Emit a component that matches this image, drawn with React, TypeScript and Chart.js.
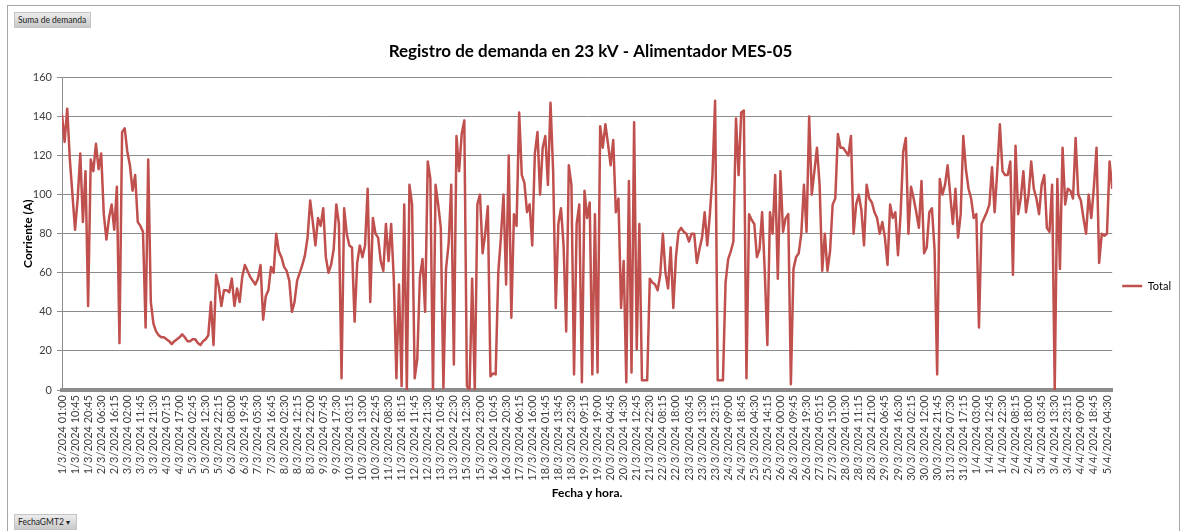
import React, { useEffect, useRef } from "react";
import { Chart, registerables } from "chart.js";

Chart.register(...registerables);

const TITLE = "Registro de demanda en 23 kV - Alimentador MES-05";
const SERIES_LABEL = "Total";
const Y_TITLE = "Corriente (A)";
const X_TITLE = "Fecha y hora.";
const VALUE_BUTTON = "Suma de demanda";
const FIELD_BUTTON = "FechaGMT2";
const SAMPLES_PER_LABEL = 5;

const tickLabels = [
  "1/3/2024 01:00", "1/3/2024 10:45", "1/3/2024 20:45", "2/3/2024 06:30", "2/3/2024 16:15",
  "3/3/2024 02:00", "3/3/2024 11:45", "3/3/2024 21:30", "4/3/2024 07:15", "4/3/2024 17:00",
  "5/3/2024 02:45", "5/3/2024 12:30", "5/3/2024 22:15", "6/3/2024 08:00", "6/3/2024 19:45",
  "7/3/2024 05:30", "7/3/2024 16:45", "8/3/2024 02:30", "8/3/2024 12:15", "8/3/2024 22:00",
  "9/3/2024 07:45", "9/3/2024 17:30", "10/3/2024 03:15", "10/3/2024 13:00", "10/3/2024 22:45",
  "11/3/2024 08:30", "11/3/2024 18:15", "12/3/2024 11:45", "12/3/2024 21:30", "13/3/2024 10:45",
  "13/3/2024 22:30", "15/3/2024 12:30", "15/3/2024 23:00", "16/3/2024 10:45", "16/3/2024 20:30",
  "17/3/2024 06:15", "17/3/2024 16:00", "18/3/2024 01:45", "18/3/2024 13:45", "18/3/2024 23:30",
  "19/3/2024 09:15", "19/3/2024 19:00", "20/3/2024 04:45", "20/3/2024 14:30", "21/3/2024 12:45",
  "21/3/2024 22:30", "22/3/2024 08:15", "22/3/2024 18:00", "23/3/2024 03:45", "23/3/2024 13:30",
  "23/3/2024 23:15", "24/3/2024 09:00", "24/3/2024 18:45", "25/3/2024 04:30", "25/3/2024 14:15",
  "26/3/2024 00:00", "26/3/2024 09:45", "26/3/2024 19:30", "27/3/2024 05:15", "27/3/2024 15:00",
  "28/3/2024 01:30", "28/3/2024 11:15", "28/3/2024 21:00", "29/3/2024 06:45", "29/3/2024 16:30",
  "30/3/2024 02:15", "30/3/2024 12:00", "30/3/2024 21:45", "31/3/2024 07:30", "31/3/2024 17:15",
  "1/4/2024 03:00", "1/4/2024 12:45", "1/4/2024 22:30", "2/4/2024 08:15", "2/4/2024 18:00",
  "3/4/2024 03:45", "3/4/2024 13:30", "3/4/2024 23:15", "4/4/2024 09:00", "4/4/2024 18:45",
  "5/4/2024 04:30",
];

// Demand (A), 1/3 -> 9/3
const demandPart1 = [
  141, 127, 144, 118, 100, 82, 98, 121, 86, 112,
  43, 118, 112, 126, 113, 121, 90, 77, 88, 95,
  82, 104, 24, 132, 134, 122, 115, 102, 110, 86,
  84, 81, 32, 118, 45, 34, 30, 28, 27, 27,
  26, 25, 23.5, 25, 26, 27, 28.5, 27, 25, 25,
  26, 26, 24, 23, 25, 26, 28, 45, 23, 59,
  53, 43, 51, 51, 50, 57, 43, 52, 45, 58,
  64, 61, 58, 56, 54, 57, 64, 36, 48, 51,
  63, 60, 80, 71, 68, 63, 61, 56, 40, 45,
  56, 60, 64, 69, 78, 97, 86, 74, 88, 84,
];

// 9/3 -> 20/3
const demandPart2 = [
  93, 68, 60, 64, 72, 95, 85, 6, 93, 80,
  74, 73, 35, 65, 74, 68, 74, 103, 45, 88,
  80, 78, 66, 61, 85, 66, 85, 57, 6, 54,
  2, 95, 0, 105, 95, 6, 16, 58, 67, 40,
  117, 108, 0, 105, 95, 83, 1, 62, 75, 105,
  13, 130, 112, 131, 138, 2, 0, 57, 0, 95,
  100, 70, 80, 94, 7, 8.5, 8, 60, 78, 100,
  54, 120, 37, 90, 84, 142, 110, 106, 91, 95,
  74, 121, 132, 100, 124, 130, 105, 147, 112, 42,
  85, 93, 74, 30, 115, 105, 8, 85, 95, 4,
];

// 20/3 -> 29/3
const demandPart3 = [
  102, 88, 96, 8, 90, 9, 135, 124, 136, 126,
  115, 128, 91, 98, 42, 66, 4, 107, 9, 137,
  21, 85, 5, 5, 5, 57, 55, 54, 51, 59,
  80, 60, 52, 73, 42, 68, 81, 83, 81, 80,
  76, 80, 80, 65, 72, 78, 91, 74, 90, 110,
  148, 5, 5, 5, 55, 67, 71, 76, 139, 110,
  142, 143, 6, 90, 87, 85, 68, 72, 91, 61,
  23, 91, 80, 110, 57, 112, 81, 88, 90, 3,
  62, 68, 70, 80, 105, 81, 140, 100, 112, 124,
  105, 61, 80, 61, 71, 95, 98, 131, 124, 124,
];

// 29/3 -> 5/4
const demandPart4 = [
  122, 120, 130, 80, 95, 100, 92, 74, 105, 98,
  96, 91, 88, 80, 86, 78, 64, 95, 88, 91,
  69, 90, 122, 129, 80, 104, 98, 91, 83, 107,
  70, 73, 91, 93, 72, 8, 108, 100, 105, 115,
  100, 85, 103, 78, 90, 130, 113, 103, 98, 88,
  90, 32, 85, 88, 91, 95, 114, 91, 112, 136,
  112, 110, 110, 117, 59, 125, 90, 98, 112, 91,
  100, 117, 103, 98, 90, 105, 110, 83, 81, 105,
  0, 108, 62, 124, 95, 103, 102, 98, 129, 100,
  97, 88, 80, 100, 88, 104, 124, 65, 80, 79,
  80, 117, 103,
];

const demand = [...demandPart1, ...demandPart2, ...demandPart3, ...demandPart4];

const FONT = "Lato, 'Open Sans', sans-serif";
const LINE_COLOR = "#C0504D";
const GRID_COLOR = "#8c8c8c";
const TICK_COLOR = "#404040";

const buttonStyle: React.CSSProperties = {
  position: "absolute",
  height: 16,
  boxSizing: "border-box",
  background: "linear-gradient(#ececec, #c9c9c9)",
  border: "1px solid #c4c4c4",
  fontFamily: FONT,
  fontSize: 8.5,
  lineHeight: "14px",
  color: "#222",
  paddingLeft: 3,
  whiteSpace: "nowrap",
};

export default function App() {
  const canvasRef = useRef<HTMLCanvasElement | null>(null);

  useEffect(() => {
    const canvas = canvasRef.current;
    if (!canvas) return;
    const chart = new Chart(canvas, {
      type: "line",
      data: {
        datasets: [
          {
            label: SERIES_LABEL,
            data: demand.map((y, i) => ({ x: i, y })),
            borderColor: LINE_COLOR,
            backgroundColor: LINE_COLOR,
            borderWidth: 2.5,
            borderJoinStyle: "round",
            pointRadius: 0,
            tension: 0,
            fill: false,
          },
        ],
      },
      options: {
        animation: false,
        responsive: false,
        maintainAspectRatio: false,
        devicePixelRatio: 1,
        events: [],
        layout: { padding: { top: 41, right: 0, bottom: 0, left: 0 } },
        plugins: {
          title: {
            display: true,
            text: TITLE,
            color: "#000",
            font: { family: FONT, size: 17, weight: "bold", lineHeight: 1.2 },
            padding: { top: 0, bottom: 16 },
          },
          legend: {
            display: true,
            position: "right",
            labels: {
              usePointStyle: true,
              pointStyle: "line",
              pointStyleWidth: 20,
              boxHeight: 11,
              color: "#000",
              font: { family: FONT, size: 11 },
              padding: 10,
            },
          },
          tooltip: { enabled: false },
        },
        scales: {
          x: {
            type: "linear",
            min: 0,
            max: demand.length - 1,
            afterBuildTicks: (s: any) => {
              s.ticks = tickLabels.map((_, j) => ({ value: j * SAMPLES_PER_LABEL }));
            },
            afterFit: (s: any) => {
              s.height = 141;
            },
            ticks: {
              autoSkip: false,
              minRotation: 90,
              maxRotation: 90,
              padding: 5,
              color: TICK_COLOR,
              font: { family: FONT, size: 11 },
              callback: (_v: any, index: number) => tickLabels[index] ?? "",
            },
            grid: { display: false, drawTicks: false },
            border: { display: true, color: GRID_COLOR, width: 4 },
            title: {
              display: true,
              text: X_TITLE,
              color: "#000",
              font: { family: FONT, size: 12, weight: "bold" },
              padding: { top: 0, bottom: 31 },
            },
          },
          y: {
            min: 0,
            max: 160,
            afterFit: (s: any) => {
              s.width = 62;
            },
            ticks: {
              stepSize: 20,
              padding: 5,
              color: TICK_COLOR,
              font: { family: FONT, size: 11 },
            },
            grid: { color: GRID_COLOR, lineWidth: 1, tickLength: 5 },
            border: { display: true, color: GRID_COLOR, width: 1 },
            title: {
              display: true,
              text: Y_TITLE,
              color: "#000",
              font: { family: FONT, size: 12, weight: "bold" },
              padding: { top: 21, bottom: 0 },
            },
          },
        },
      },
    } as any);
    return () => chart.destroy();
  }, []);

  return (
    <div
      style={{
        position: "fixed",
        left: 0,
        top: 0,
        width: 1181,
        height: 531,
        background: "#fff",
        overflow: "hidden",
      }}
    >
      <div
        style={{
          position: "absolute",
          left: 7,
          top: 5,
          width: 1171,
          height: 560,
          border: "1px solid #a6a6a6",
        }}
      />
      <canvas
        ref={canvasRef}
        width={1181}
        height={531}
        style={{ position: "absolute", left: 0, top: 0, width: 1181, height: 531, display: "block" }}
      />
      <div style={{ ...buttonStyle, left: 14, top: 12, width: 77 }}>{VALUE_BUTTON}</div>
      <div style={{ ...buttonStyle, left: 14, top: 514, width: 63 }}>
        {FIELD_BUTTON}
        <span style={{ position: "absolute", right: 6, top: 0, fontSize: 8 }}>▾</span>
      </div>
    </div>
  );
}
